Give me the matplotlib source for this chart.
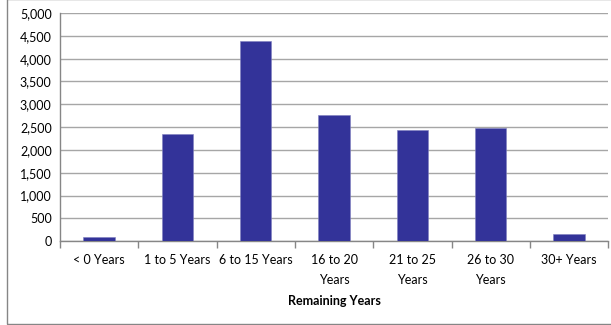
import matplotlib
matplotlib.use("Agg")
import matplotlib.pyplot as plt
from matplotlib.patches import Rectangle
from matplotlib.ticker import FuncFormatter, MultipleLocator

categories = ["< 0 Years", "1 to 5 Years", "6 to 15 Years", "16 to 20\nYears",
              "21 to 25\nYears", "26 to 30\nYears", "30+ Years"]
counts = [85, 2350, 4380, 2770, 2436, 2485, 160]

plt.rcParams["font.family"] = ["Lato", "DejaVu Sans"]

fig = plt.figure(figsize=(6.11, 3.25), dpi=100)
ax = fig.add_axes([0.0982, 0.2575, 0.8974, 0.7025])

x = range(len(categories))
ax.bar(x, counts, width=0.4, color="#333399", edgecolor="#8080c0", linewidth=0.4, zorder=3)

ax.set_xlim(-0.5, len(categories) - 0.5)
ax.set_ylim(0, 5000)
ax.yaxis.set_major_locator(MultipleLocator(500))
ax.yaxis.set_major_formatter(FuncFormatter(lambda v, _: f"{int(v):,}"))
ax.grid(axis="y", color="#a6a6a6", lw=1.0, zorder=0)

ax.set_xticks(list(x))
ax.set_xticklabels(categories, fontsize=9, linespacing=1.85, va="top")
ax.tick_params(axis="x", length=0, pad=9)
ax.set_xticks([i - 0.5 for i in range(len(categories) + 1)], minor=True)
ax.tick_params(axis="x", which="minor", length=5, color="#868686", width=1.0)
ax.tick_params(axis="y", length=0, pad=6, labelsize=9)

for s in ["top", "right"]:
    ax.spines[s].set_visible(False)
for s in ["left", "bottom"]:
    ax.spines[s].set_color("#868686")
    ax.spines[s].set_linewidth(1.0)

ax.set_xlabel("Remaining Years", fontsize=9, fontweight="bold", labelpad=6)

# outer chart frame (left/bottom visible, top/right cropped)
fig.patches.append(Rectangle((7 / 611, 1 - 324 / 325), 1.0, 1.0,
                             transform=fig.transFigure, fill=False,
                             edgecolor="#868686", lw=1.0))

fig.savefig("out.png", dpi=100)
